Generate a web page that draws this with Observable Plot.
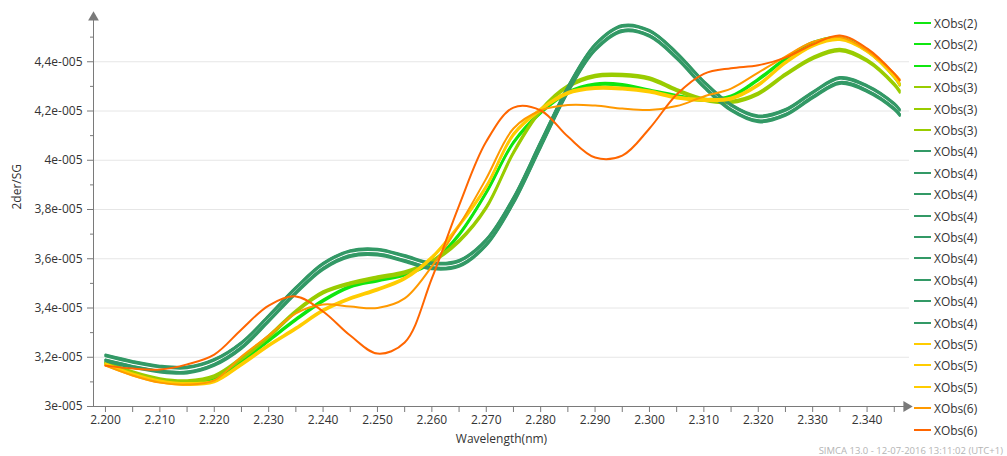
<!DOCTYPE html>
<html>
<head>
<meta charset="utf-8">
<script src="https://cdn.jsdelivr.net/npm/d3@7"></script>
<script src="https://cdn.jsdelivr.net/npm/@observablehq/plot@0.6"></script>
<style>
  body { margin: 0; background: #fff; }
  #wrap { position: relative; width: 1007px; height: 456px; overflow: hidden; font-family: "Open Sans", sans-serif; }
  #legend { position: absolute; left: 914px; top: 0; }
  .row { position: absolute; left: 0; display: flex; align-items: center; height: 22px; font-size: 12px; color: #333; white-space: nowrap; }
  .sw { width: 17px; height: 2px; margin-right: 3px; }
  #caption { position: absolute; right: 4px; top: 444px; font-size: 9.5px; color: #b4b4b4; white-space: nowrap; }
</style>
</head>
<body>
<div id="wrap">
  <div id="legend"></div>
  <div id="caption"></div>
</div>
<script>
// Wavelength grid (nm) shared by every spectrum
const wavelength = [2.200, 2.205, 2.210, 2.215, 2.220, 2.225, 2.230, 2.235, 2.240, 2.245,
  2.250, 2.255, 2.260, 2.265, 2.270, 2.275, 2.280, 2.285, 2.290, 2.295,
  2.300, 2.305, 2.310, 2.315, 2.320, 2.325, 2.330, 2.335, 2.340, 2.345, 2.346];

// Second-derivative (Savitzky-Golay) spectra, in units of 1e-5
const xobs2a = [3.179, 3.138, 3.110, 3.101, 3.114, 3.187, 3.272, 3.357, 3.434, 3.491, 3.516, 3.540, 3.589, 3.702, 3.873, 4.076, 4.198, 4.279, 4.312, 4.310, 4.287, 4.265, 4.249, 4.263, 4.332, 4.415, 4.480, 4.500, 4.450, 4.344, 4.312];
const xobs2b = [3.175, 3.134, 3.106, 3.097, 3.110, 3.183, 3.268, 3.353, 3.430, 3.487, 3.512, 3.536, 3.585, 3.698, 3.869, 4.072, 4.194, 4.275, 4.308, 4.306, 4.283, 4.261, 4.245, 4.259, 4.328, 4.411, 4.476, 4.496, 4.446, 4.340, 4.308];
const xobs2c = [3.171, 3.130, 3.102, 3.093, 3.106, 3.179, 3.264, 3.349, 3.426, 3.483, 3.508, 3.532, 3.581, 3.694, 3.865, 4.068, 4.190, 4.271, 4.304, 4.302, 4.279, 4.257, 4.241, 4.255, 4.324, 4.407, 4.472, 4.492, 4.442, 4.336, 4.304];

const xobs3a = [3.184, 3.143, 3.115, 3.107, 3.127, 3.200, 3.289, 3.391, 3.468, 3.505, 3.529, 3.549, 3.594, 3.677, 3.813, 4.036, 4.207, 4.305, 4.347, 4.351, 4.337, 4.290, 4.252, 4.242, 4.276, 4.353, 4.420, 4.453, 4.410, 4.313, 4.284];
const xobs3b = [3.179, 3.138, 3.110, 3.102, 3.122, 3.195, 3.284, 3.386, 3.463, 3.500, 3.524, 3.544, 3.589, 3.672, 3.808, 4.031, 4.202, 4.300, 4.342, 4.346, 4.332, 4.285, 4.247, 4.237, 4.271, 4.348, 4.415, 4.448, 4.405, 4.308, 4.279];
const xobs3c = [3.174, 3.133, 3.105, 3.097, 3.117, 3.190, 3.279, 3.381, 3.458, 3.495, 3.519, 3.539, 3.584, 3.667, 3.803, 4.026, 4.197, 4.295, 4.337, 4.341, 4.327, 4.280, 4.242, 4.232, 4.266, 4.343, 4.410, 4.443, 4.400, 4.303, 4.274];

const xobs4a = [3.211, 3.185, 3.166, 3.162, 3.193, 3.262, 3.371, 3.485, 3.583, 3.635, 3.641, 3.615, 3.585, 3.595, 3.680, 3.851, 4.078, 4.301, 4.472, 4.549, 4.529, 4.439, 4.322, 4.228, 4.182, 4.208, 4.279, 4.338, 4.305, 4.232, 4.208];
const xobs4b = [3.206, 3.180, 3.162, 3.158, 3.190, 3.259, 3.368, 3.482, 3.580, 3.632, 3.637, 3.610, 3.580, 3.590, 3.675, 3.846, 4.073, 4.296, 4.468, 4.545, 4.525, 4.435, 4.318, 4.224, 4.178, 4.204, 4.275, 4.334, 4.301, 4.228, 4.204];
const xobs4c = [3.209, 3.183, 3.163, 3.160, 3.191, 3.260, 3.369, 3.483, 3.581, 3.633, 3.639, 3.613, 3.583, 3.593, 3.678, 3.849, 4.076, 4.299, 4.470, 4.547, 4.527, 4.437, 4.320, 4.226, 4.180, 4.206, 4.277, 4.336, 4.303, 4.230, 4.206];
const xobs4d = [3.204, 3.178, 3.159, 3.155, 3.186, 3.255, 3.364, 3.478, 3.576, 3.628, 3.634, 3.608, 3.578, 3.588, 3.673, 3.844, 4.071, 4.294, 4.465, 4.542, 4.522, 4.432, 4.315, 4.221, 4.175, 4.201, 4.272, 4.331, 4.298, 4.225, 4.201];
const xobs4e = [3.191, 3.165, 3.146, 3.142, 3.173, 3.242, 3.351, 3.465, 3.563, 3.615, 3.621, 3.595, 3.565, 3.575, 3.660, 3.831, 4.058, 4.281, 4.452, 4.529, 4.509, 4.419, 4.302, 4.208, 4.162, 4.188, 4.259, 4.318, 4.285, 4.212, 4.188];
const xobs4f = [3.188, 3.162, 3.143, 3.139, 3.170, 3.239, 3.348, 3.462, 3.560, 3.612, 3.618, 3.592, 3.562, 3.572, 3.657, 3.828, 4.055, 4.278, 4.449, 4.526, 4.506, 4.416, 4.299, 4.205, 4.159, 4.185, 4.256, 4.315, 4.282, 4.209, 4.185];
const xobs4g = [3.186, 3.160, 3.141, 3.137, 3.168, 3.237, 3.346, 3.460, 3.558, 3.610, 3.616, 3.590, 3.560, 3.570, 3.655, 3.826, 4.053, 4.276, 4.447, 4.524, 4.504, 4.414, 4.297, 4.203, 4.157, 4.183, 4.254, 4.313, 4.280, 4.207, 4.183];
const xobs4h = [3.190, 3.164, 3.145, 3.141, 3.172, 3.241, 3.350, 3.464, 3.562, 3.614, 3.620, 3.594, 3.564, 3.574, 3.659, 3.830, 4.057, 4.280, 4.451, 4.528, 4.508, 4.418, 4.301, 4.207, 4.161, 4.187, 4.258, 4.317, 4.284, 4.211, 4.187];
const xobs4i = [3.183, 3.157, 3.138, 3.134, 3.165, 3.234, 3.343, 3.457, 3.555, 3.607, 3.613, 3.587, 3.557, 3.567, 3.652, 3.823, 4.050, 4.273, 4.444, 4.521, 4.501, 4.411, 4.294, 4.200, 4.154, 4.180, 4.251, 4.310, 4.277, 4.204, 4.180];

const xobs5a = [3.175, 3.134, 3.106, 3.095, 3.106, 3.175, 3.252, 3.321, 3.394, 3.443, 3.479, 3.524, 3.609, 3.739, 3.897, 4.109, 4.210, 4.277, 4.297, 4.295, 4.283, 4.259, 4.249, 4.255, 4.310, 4.401, 4.470, 4.496, 4.448, 4.344, 4.312];
const xobs5b = [3.171, 3.130, 3.102, 3.091, 3.102, 3.171, 3.248, 3.317, 3.390, 3.439, 3.475, 3.520, 3.605, 3.735, 3.893, 4.105, 4.206, 4.273, 4.293, 4.291, 4.279, 4.255, 4.245, 4.251, 4.306, 4.397, 4.466, 4.492, 4.444, 4.340, 4.308];
const xobs5c = [3.167, 3.126, 3.098, 3.087, 3.098, 3.167, 3.244, 3.313, 3.386, 3.435, 3.471, 3.516, 3.601, 3.731, 3.889, 4.101, 4.202, 4.269, 4.289, 4.287, 4.275, 4.251, 4.241, 4.247, 4.302, 4.393, 4.462, 4.488, 4.440, 4.336, 4.304];

const xobs6a = [3.166, 3.126, 3.097, 3.089, 3.106, 3.203, 3.288, 3.378, 3.414, 3.406, 3.400, 3.439, 3.569, 3.735, 3.926, 4.129, 4.202, 4.224, 4.222, 4.210, 4.204, 4.220, 4.259, 4.291, 4.356, 4.421, 4.480, 4.500, 4.446, 4.352, 4.328];
const xobs6b = [3.166, 3.154, 3.150, 3.171, 3.211, 3.313, 3.410, 3.447, 3.386, 3.288, 3.215, 3.260, 3.520, 3.816, 4.076, 4.214, 4.202, 4.096, 4.011, 4.019, 4.129, 4.267, 4.351, 4.374, 4.386, 4.417, 4.470, 4.507, 4.454, 4.352, 4.324];

// Series labels and colours, in legend order
const seriesNames = ["XObs(2)", "XObs(2)", "XObs(2)", "XObs(3)", "XObs(3)", "XObs(3)",
  "XObs(4)", "XObs(4)", "XObs(4)", "XObs(4)", "XObs(4)", "XObs(4)", "XObs(4)", "XObs(4)", "XObs(4)",
  "XObs(5)", "XObs(5)", "XObs(5)", "XObs(6)", "XObs(6)"];
const seriesColors = ["#10e610", "#10e610", "#10e610", "#99cc00", "#99cc00", "#99cc00",
  "#339966", "#339966", "#339966", "#339966", "#339966", "#339966", "#339966", "#339966", "#339966",
  "#ffcc00", "#ffcc00", "#ffcc00", "#ff9900", "#ff6600"];
const seriesValues = [xobs2a, xobs2b, xobs2c, xobs3a, xobs3b, xobs3c,
  xobs4a, xobs4b, xobs4c, xobs4d, xobs4e, xobs4f, xobs4g, xobs4h, xobs4i,
  xobs5a, xobs5b, xobs5c, xobs6a, xobs6b];

// Axes
const xDomain = [2.1978, 2.3478];
const yDomain = [3.0, 4.6];
const xTicks = [2.200, 2.210, 2.220, 2.230, 2.240, 2.250, 2.260, 2.270, 2.280, 2.290, 2.300, 2.310, 2.320, 2.330, 2.340];
const xMinorTicks = [2.205, 2.215, 2.225, 2.235, 2.245, 2.255, 2.265, 2.275, 2.285, 2.295, 2.305, 2.315, 2.325, 2.335, 2.345];
const yTicks = [3.0, 3.2, 3.4, 3.6, 3.8, 4.0, 4.2, 4.4];
const yMinorTicks = [3.1, 3.3, 3.5, 3.7, 3.9, 4.1, 4.3, 4.5];
const xTitle = "Wavelength(nm)";
const yTitle = "2der/SG";
const captionText = "SIMCA 13.0 - 12-07-2016 13:11:02 (UTC+1)";

const axisColor = "#7a7a7a";
const fmtY = d => (Number.isInteger(d) ? String(d) : d.toFixed(1).replace(".", ",")) + "e-005";

const lineMarks = seriesValues.map((vals, k) =>
  Plot.line(wavelength.map((w, i) => ({w, v: vals[i]})), {
    x: "w", y: "v", stroke: seriesColors[k], strokeWidth: 2, curve: "catmull-rom"
  })
);

const chart = Plot.plot({
  width: 1007,
  height: 456,
  marginLeft: 93,
  marginRight: 98,
  marginTop: 12,
  marginBottom: 50,
  x: {domain: xDomain},
  y: {domain: yDomain},
  style: {fontFamily: "Open Sans, sans-serif", fontSize: "12px", color: "#333", background: "#fff", overflow: "visible"},
  marks: [
    Plot.gridY(yTicks.slice(1), {stroke: "#e6e6e6", strokeOpacity: 1}),
    ...lineMarks,
    Plot.ruleY([yDomain[0]], {stroke: axisColor}),
    Plot.ruleX([xDomain[0]], {stroke: axisColor}),
    Plot.dot([{x: xDomain[1], y: yDomain[0]}], {x: "x", y: "y", symbol: "triangle", r: 4, rotate: 90, fill: axisColor, stroke: null, dx: -3}),
    Plot.dot([{x: xDomain[0], y: yDomain[1]}], {x: "x", y: "y", symbol: "triangle", r: 4, fill: axisColor, stroke: null, dy: 5}),
    Plot.axisX({ticks: xTicks, tickFormat: d3.format(".3f"), tickSize: 6, tickPadding: 3, stroke: axisColor, fill: "#333", label: null}),
    Plot.axisX({ticks: xMinorTicks, tickFormat: () => "", tickSize: 6, stroke: axisColor, label: null}),
    Plot.axisY({ticks: yTicks, tickFormat: fmtY, tickSize: 6, tickPadding: 5, stroke: axisColor, fill: "#333", label: null}),
    Plot.axisY({ticks: yMinorTicks, tickFormat: () => "", tickSize: 3, stroke: axisColor, label: null}),
    Plot.text([xTitle], {text: d => d, frameAnchor: "bottom", dy: 36, fill: "#333"}),
    Plot.text([yTitle], {text: d => d, frameAnchor: "left", dx: -76, rotate: -90, fill: "#333"})
  ]
});

const wrap = document.getElementById("wrap");
wrap.insertBefore(chart, wrap.firstChild);

// Legend: one row per spectrum, rows snapped to whole pixels
const legend = d3.select("#legend");
const rowStep = 21.4;
seriesNames.forEach((name, k) => {
  const row = legend.append("div").attr("class", "row")
    .style("top", `${Math.round(12 + k * rowStep)}px`);
  row.append("div").attr("class", "sw").style("background", seriesColors[k]);
  row.append("span").text(name);
});

document.getElementById("caption").textContent = captionText;
</script>
</body>
</html>
